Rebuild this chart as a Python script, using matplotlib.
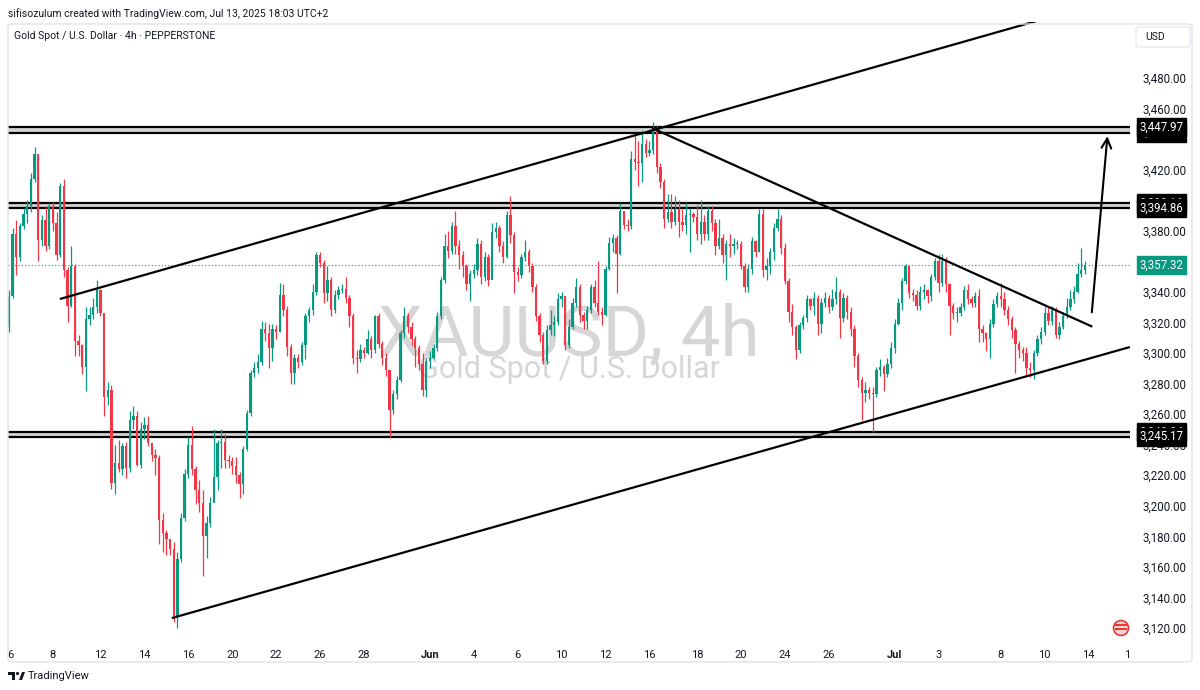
import matplotlib.pyplot as plt
import matplotlib.transforms as mtransforms
from matplotlib.patches import FancyBboxPatch, Ellipse, Polygon, Rectangle
import numpy as np

plt.rcParams['font.family'] = ['Roboto', 'DejaVu Sans']

# XAUUSD 4h candles, 6 May -> 11 Jul 2025
first_open = 3317
close = [3337, 3378, 3363, 3383, 3391, 3396, 3414, 3430, 3374, 3387,
         3370, 3396, 3385, 3364, 3409, 3354, 3331, 3357, 3308, 3305,
         3291, 3322, 3325, 3330, 3341, 3326, 3271, 3276, 3215, 3228,
         3224, 3239, 3225, 3256, 3259, 3227, 3250, 3253, 3241, 3233,
         3231, 3191, 3182, 3178, 3172, 3128, 3165, 3192, 3221, 3240,
         3224, 3210, 3202, 3180, 3189, 3202, 3219, 3241, 3242, 3230,
         3229, 3226, 3220, 3214, 3237, 3261, 3287, 3290, 3294, 3316,
         3313, 3303, 3316, 3314, 3338, 3328, 3304, 3287, 3297, 3294,
         3305, 3324, 3328, 3340, 3364, 3359, 3339, 3348, 3328, 3338,
         3341, 3342, 3336, 3324, 3297, 3296, 3302, 3300, 3309, 3302,
         3324, 3306, 3297, 3289, 3263, 3273, 3282, 3313, 3324, 3317,
         3309, 3303, 3293, 3276, 3295, 3297, 3303, 3324, 3348, 3370,
         3367, 3383, 3370, 3364, 3357, 3345, 3352, 3354, 3371, 3350,
         3363, 3348, 3379, 3382, 3370, 3363, 3390, 3377, 3353, 3351,
         3363, 3366, 3357, 3343, 3324, 3312, 3295, 3315, 3318, 3320,
         3335, 3337, 3305, 3317, 3333, 3343, 3325, 3321, 3328, 3343,
         3333, 3327, 3325, 3355, 3372, 3375, 3365, 3393, 3384, 3383,
         3427, 3425, 3424, 3437, 3431, 3433, 3446, 3422, 3412, 3388,
         3392, 3386, 3394, 3386, 3384, 3390, 3391, 3389, 3378, 3386,
         3378, 3393, 3385, 3370, 3375, 3364, 3371, 3370, 3371, 3371,
         3357, 3343, 3355, 3373, 3366, 3391, 3354, 3357, 3366, 3382,
         3388, 3369, 3347, 3327, 3317, 3302, 3318, 3323, 3335, 3331,
         3336, 3319, 3333, 3336, 3330, 3335, 3340, 3323, 3336, 3327,
         3316, 3298, 3282, 3274, 3276, 3274, 3273, 3289, 3291, 3286,
         3293, 3303, 3319, 3333, 3347, 3357, 3339, 3338, 3331, 3340,
         3341, 3337, 3350, 3360, 3346, 3360, 3345, 3331, 3326, 3326,
         3330, 3341, 3335, 3333, 3337, 3316, 3313, 3309, 3319, 3332,
         3337, 3335, 3328, 3322, 3315, 3306, 3302, 3300, 3290, 3289,
         3300, 3309, 3314, 3326, 3321, 3328, 3312, 3317, 3324, 3330,
         3335, 3340, 3352, 3354, 3357.32]
high = [3341, 3382, 3387, 3385, 3395, 3400, 3418, 3435, 3428, 3390,
        3396, 3398, 3399, 3392, 3411, 3414, 3356, 3370, 3358, 3312,
        3306, 3330, 3330, 3336, 3348, 3342, 3292, 3281, 3279, 3240,
        3243, 3241, 3242, 3262, 3265, 3262, 3255, 3258, 3259, 3240,
        3237, 3233, 3195, 3184, 3175, 3176, 3170, 3195, 3224, 3245,
        3252, 3226, 3217, 3210, 3193, 3206, 3250, 3243, 3250, 3247,
        3233, 3232, 3232, 3222, 3239, 3263, 3289, 3294, 3299, 3321,
        3320, 3319, 3319, 3318, 3346, 3345, 3331, 3306, 3299, 3299,
        3307, 3326, 3330, 3345, 3366, 3366, 3361, 3357, 3350, 3341,
        3344, 3345, 3350, 3338, 3326, 3302, 3306, 3304, 3315, 3311,
        3325, 3326, 3308, 3300, 3287, 3276, 3285, 3315, 3330, 3326,
        3320, 3311, 3305, 3300, 3297, 3301, 3306, 3327, 3350, 3378,
        3380, 3386, 3393, 3374, 3367, 3358, 3354, 3358, 3375, 3374,
        3366, 3365, 3385, 3386, 3384, 3373, 3393, 3403, 3379, 3356,
        3365, 3374, 3368, 3359, 3345, 3326, 3314, 3318, 3328, 3324,
        3339, 3340, 3336, 3322, 3336, 3349, 3345, 3327, 3331, 3345,
        3348, 3360, 3330, 3357, 3376, 3378, 3377, 3398, 3393, 3388,
        3432, 3444, 3439, 3446, 3440, 3439, 3451, 3449, 3424, 3414,
        3404, 3404, 3403, 3400, 3394, 3398, 3395, 3392, 3397, 3400,
        3390, 3396, 3396, 3388, 3388, 3378, 3374, 3378, 3375, 3374,
        3373, 3359, 3358, 3376, 3374, 3394, 3394, 3362, 3369, 3385,
        3394, 3390, 3372, 3349, 3332, 3318, 3320, 3325, 3338, 3336,
        3340, 3338, 3336, 3340, 3338, 3342, 3350, 3342, 3339, 3338,
        3330, 3318, 3300, 3284, 3281, 3278, 3278, 3291, 3296, 3292,
        3297, 3307, 3322, 3336, 3349, 3358, 3355, 3342, 3341, 3344,
        3345, 3342, 3352, 3362, 3365, 3365, 3363, 3346, 3333, 3330,
        3333, 3344, 3345, 3337, 3340, 3342, 3318, 3314, 3322, 3335,
        3340, 3346, 3340, 3331, 3324, 3317, 3308, 3304, 3304, 3294,
        3302, 3312, 3317, 3330, 3330, 3331, 3330, 3320, 3327, 3336,
        3341, 3344, 3359, 3369, 3360]
low = [3314, 3336, 3351, 3360, 3381, 3385, 3392, 3412, 3360, 3370,
       3367, 3368, 3380, 3361, 3363, 3350, 3320, 3330, 3298, 3298,
       3286, 3275, 3318, 3322, 3326, 3324, 3259, 3266, 3211, 3208,
       3222, 3220, 3218, 3222, 3250, 3226, 3225, 3244, 3239, 3229,
       3220, 3175, 3170, 3168, 3168, 3124, 3120, 3163, 3190, 3218,
       3220, 3201, 3196, 3154, 3166, 3186, 3205, 3210, 3225, 3225,
       3225, 3221, 3215, 3205, 3208, 3236, 3259, 3284, 3287, 3292,
       3308, 3290, 3295, 3309, 3314, 3324, 3298, 3280, 3280, 3290,
       3292, 3296, 3320, 3325, 3338, 3356, 3333, 3334, 3324, 3326,
       3335, 3339, 3333, 3317, 3293, 3287, 3294, 3297, 3299, 3297,
       3300, 3303, 3292, 3285, 3245, 3260, 3270, 3281, 3310, 3313,
       3305, 3291, 3289, 3272, 3271, 3290, 3296, 3301, 3322, 3346,
       3362, 3365, 3365, 3355, 3350, 3341, 3334, 3349, 3351, 3345,
       3347, 3344, 3349, 3375, 3366, 3359, 3362, 3372, 3339, 3347,
       3349, 3360, 3353, 3340, 3321, 3307, 3293, 3293, 3312, 3311,
       3318, 3330, 3302, 3303, 3316, 3330, 3320, 3316, 3316, 3326,
       3330, 3325, 3318, 3324, 3354, 3366, 3339, 3364, 3381, 3380,
       3381, 3420, 3409, 3412, 3428, 3429, 3430, 3418, 3408, 3382,
       3386, 3382, 3384, 3376, 3380, 3378, 3366, 3386, 3374, 3371,
       3374, 3374, 3380, 3364, 3368, 3359, 3348, 3363, 3365, 3368,
       3355, 3340, 3340, 3352, 3363, 3366, 3350, 3348, 3352, 3361,
       3380, 3365, 3345, 3320, 3312, 3296, 3300, 3316, 3320, 3328,
       3325, 3312, 3313, 3330, 3326, 3328, 3332, 3310, 3320, 3322,
       3311, 3291, 3278, 3256, 3268, 3270, 3248, 3271, 3285, 3275,
       3284, 3290, 3300, 3318, 3328, 3345, 3336, 3334, 3328, 3328,
       3335, 3333, 3334, 3348, 3340, 3344, 3340, 3312, 3322, 3320,
       3324, 3328, 3332, 3330, 3330, 3307, 3307, 3301, 3297, 3317,
       3330, 3330, 3325, 3318, 3310, 3287, 3297, 3295, 3285, 3284,
       3283, 3298, 3306, 3312, 3318, 3318, 3310, 3309, 3316, 3323,
       3328, 3333, 3339, 3350, 3352]

# support / resistance zones (upper, lower)
zones = [(3447.97, 3444.16), (3398.16, 3394.86), (3248.24, 3245.17)]
shown_labels = [3447.97, 3394.86, 3245.17]
last_price = 3357.32

# scale labels that the price boxes hide completely are left out
price_ticks = [3120, 3140, 3160, 3180, 3200, 3220, 3240, 3260, 3280, 3300,
               3320, 3340, 3380, 3420, 3460, 3480]
date_pos = [0.5, 12, 25, 37, 49, 61, 73, 85, 97, 115, 127, 139, 151, 163,
            175, 188, 200, 212, 224, 242, 254, 271, 283, 295, 305.5]
date_labels = ['6', '8', '12', '14', '16', '20', '22', '26', '28', 'Jun',
               '4', '6', '10', '12', '16', '18', '20', '24', '26', 'Jul',
               '3', '8', '10', '14', '1']

# drawings: (candle index, price)
upper_channel = [(13.9, 3335.3), (281.7, 3517.9)]
lower_channel = [(44.5, 3126.5), (306.3, 3303.9)]
down_line = [(175.7, 3447.2), (296.0, 3317.2)]
target_arrow = [(295.8, 3324.8), (300.2, 3443.7)]

GREEN = '#089981'
RED = '#f23645'
TEXT = '#131722'

W, H = 1200, 690
def fx(px):
    return px / W
def fy(py):
    return 1 - py / H

fig = plt.figure(figsize=(12, 6.9), dpi=100)
ax = fig.add_axes([fx(8), fy(640), (1130 - 8) / W, (640 - 22) / H])
ax.set_xlim(-0.27, 306.3)
ax.set_ylim(3112.15, 3516.6)
for s in ax.spines.values():
    s.set_visible(False)

# watermark
ax.text(0.5, 0.461, 'XAUUSD, 4h', transform=ax.transAxes, ha='center',
        va='baseline', fontsize=51, color='#d6d6d6', zorder=0.5)
ax.text(0.5, 0.424, 'Gold Spot / U.S. Dollar', transform=ax.transAxes,
        ha='center', va='baseline', fontsize=22, color='#d6d6d6', zorder=0.5)

# candles
c = np.array(close, dtype=float)
o = np.concatenate([[first_open], c[:-1]])
x = np.arange(len(c))
cols = np.where(c >= o, GREEN, RED)
ax.vlines(x, low, high, colors=cols, lw=0.9, zorder=3)
ax.bar(x, np.maximum(np.abs(c - o), 0.7), bottom=np.minimum(o, c),
       width=0.64, color=cols, linewidth=0, zorder=4)

# zones
for hi, lo in zones:
    ax.axhspan(lo, hi, color='#d4d4d4', lw=0, zorder=1.5)
    ax.axhline(hi, color='black', lw=1.6, zorder=2)
    ax.axhline(lo, color='black', lw=1.6, zorder=2)

ax.axhline(last_price, color=GREEN, lw=0.8, ls=(0, (1, 2)), zorder=2)

# trend lines and arrow
for line in (upper_channel, lower_channel, down_line):
    (x0, y0), (x1, y1) = line
    ax.plot([x0, x1], [y0, y1], color='black', lw=1.6, zorder=5,
            solid_capstyle='butt')
ax.annotate('', xy=target_arrow[1], xytext=target_arrow[0],
            arrowprops=dict(arrowstyle='->,head_length=0.7,head_width=0.35',
                            color='black', lw=1.5), zorder=6)

# price scale
ax.yaxis.tick_right()
ax.set_yticks(price_ticks)
ax.set_yticklabels([f'{p:,.2f}' for p in price_ticks])
ax.tick_params(axis='y', length=0, pad=9, labelsize=8.3, labelcolor=TEXT)

trans = mtransforms.blended_transform_factory(ax.transAxes, ax.transData)
def price_box(p, fc, z):
    ax.text(1.0085, p, f'{p:,.2f}', transform=trans, ha='left', va='center',
            fontsize=8.3, color='white', clip_on=False, zorder=z,
            bbox=dict(boxstyle='square,pad=0.22', fc=fc, ec=fc))

for hi, lo in zones:
    for p in (hi, lo):
        price_box(p, 'black', 11 if p in shown_labels else 10)
price_box(last_price, GREEN, 12)

# time scale
ax.set_xticks(date_pos)
ax.set_xticklabels(date_labels)
ax.tick_params(axis='x', length=0, pad=7, labelsize=8, labelcolor=TEXT)
for t in ax.get_xticklabels():
    if t.get_text() in ('Jun', 'Jul'):
        t.set_fontweight('bold')

# frame and header
fig.add_artist(FancyBboxPatch((fx(8), fy(662)), fx(1192) - fx(8), fy(24) - fy(662),
                              boxstyle='round,pad=0,rounding_size=0.004',
                              transform=fig.transFigure, fill=False,
                              ec='#e0e3eb', lw=1))
fig.text(fx(8), fy(14), 'sifisozulum created with TradingView.com, Jul 13, 2025 18:03 UTC+2',
         fontsize=7.5, color=TEXT, va='center')
fig.text(fx(14), fy(36), 'Gold Spot / U.S. Dollar · 4h · PEPPERSTONE',
         fontsize=7.5, color=TEXT, va='center')

# USD box
fig.add_artist(FancyBboxPatch((fx(1136), fy(47)), fx(54), 20 / H,
                              boxstyle='round,pad=0,rounding_size=0.003',
                              transform=fig.transFigure, fc='white',
                              ec='#e0e3eb', lw=0.8))
fig.text(fx(1145), fy(37), 'USD', fontsize=7.5, color=TEXT, va='center')

# event flag icon
fig.add_artist(Ellipse((fx(1121), fy(628)), 15 / W, 15 / H, transform=fig.transFigure,
                       fc='#f7d4d4', ec='#e53935', lw=1.2))
fig.add_artist(Rectangle((fx(1115), fy(630)), 12 / W, 2 / H,
                         transform=fig.transFigure, fc='#e53935', lw=0))
fig.add_artist(Rectangle((fx(1115), fy(626)), 12 / W, 2 / H,
                         transform=fig.transFigure, fc='#e53935', lw=0))

# TradingView logo
fig.add_artist(Polygon([(fx(8), fy(672)), (fx(15), fy(672)), (fx(15), fy(680)),
                        (fx(12), fy(680)), (fx(12), fy(675)), (fx(8), fy(675))],
                       transform=fig.transFigure, fc=TEXT, lw=0))
fig.add_artist(Ellipse((fx(17.5), fy(673.5)), 3.2 / W, 3.2 / H, transform=fig.transFigure,
                       fc=TEXT, lw=0))
fig.add_artist(Polygon([(fx(19), fy(680)), (fx(22), fy(672)), (fx(25), fy(672)),
                        (fx(22), fy(680))],
                       transform=fig.transFigure, fc=TEXT, lw=0))
fig.text(fx(28), fy(676), 'TradingView', fontsize=8, color=TEXT, va='center')

fig.savefig('out.png', dpi=100, facecolor='white')
